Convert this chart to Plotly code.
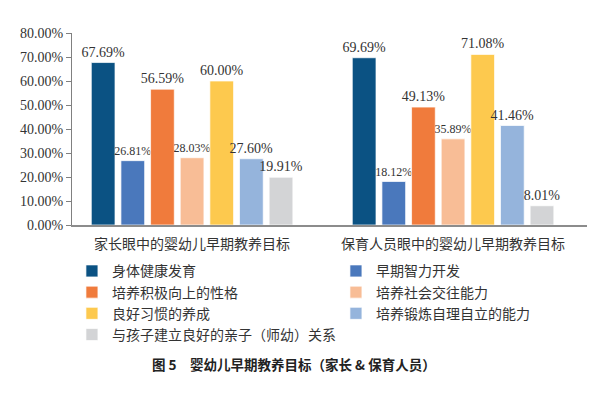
import plotly.graph_objects as go

categories = ["家长眼中的婴幼儿早期教养目标", "保育人员眼中的婴幼儿早期教养目标"]
series_names = ["身体健康发育", "早期智力开发", "培养积极向上的性格", "培养社会交往能力",
                "良好习惯的养成", "培养锻炼自理自立的能力", "与孩子建立良好的亲子（师幼）关系"]
values = [
    [67.69, 69.69],
    [26.81, 18.12],
    [56.59, 49.13],
    [28.03, 35.89],
    [60.00, 71.08],
    [27.60, 41.46],
    [19.91, 8.01],
]
label_sizes = [
    [14, 14],
    [12, 12],
    [14, 14],
    [12, 12],
    [14, 14],
    [14, 14],
    [14, 14],
]
colors = ["#0B5283", "#4A78BC", "#F07B3C", "#F8BD96", "#FDC94E", "#95B4DC", "#D3D4D6"]
tick_vals = [0, 10, 20, 30, 40, 50, 60, 70, 80]
tick_text = ["0.00%", "10.00%", "20.00%", "30.00%", "40.00%", "50.00%", "60.00%", "70.00%", "80.00%"]
title_text = "图 5　婴幼儿早期教养目标（家长 & 保育人员）"

fig = go.Figure()
for name, vals, col, sz in zip(series_names, values, colors, label_sizes):
    fig.add_trace(go.Bar(
        x=categories, y=vals, name=name,
        marker=dict(color=col, line=dict(color="rgba(255,255,255,0.7)", width=1)),
        text=[f"{v:.2f}%" for v in vals], textposition="outside",
        textfont=dict(family="Liberation Serif", size=sz, color="#333333"),
        constraintext="none", cliponaxis=False,
    ))

fig.update_layout(
    width=600, height=394,
    margin=dict(l=60, r=21, t=25, b=177),
    paper_bgcolor="white", plot_bgcolor="white",
    barmode="group", bargap=0.205, bargroupgap=0.2,
    font=dict(family="Noto Sans CJK SC", color="#333333"),
    showlegend=True,
    legend=dict(orientation="h", x=-0.0001, xanchor="left", y=-0.158, yanchor="top",
                entrywidth=219, entrywidthmode="pixels", traceorder="normal",
                font=dict(family="Noto Sans CJK SC", size=14, color="#333333"),
                itemwidth=30, tracegroupgap=0, bgcolor="rgba(0,0,0,0)"),
)
fig.update_yaxes(range=[0, 80], tickvals=tick_vals, ticktext=tick_text,
                 showgrid=False, zeroline=False, showline=True, linecolor="#808080", linewidth=1,
                 ticks="outside", ticklen=5, tickcolor="#808080",
                 tickfont=dict(family="Liberation Serif", size=14, color="#333333"))
fig.update_xaxes(range=[-0.4601, 1.5132], showgrid=False, showline=True, linecolor="#8c8c8c", linewidth=2,
                 ticks="outside", ticklen=5, tickcolor="rgba(0,0,0,0)",
                 tickfont=dict(family="Noto Sans CJK SC", size=14, color="#333333"))
fig.add_annotation(text="<b>" + title_text + "</b>", xref="paper", yref="paper",
                   x=0.432, y=-0.726, xanchor="center", yanchor="middle", showarrow=False,
                   font=dict(family="Noto Sans CJK SC", size=13.5, color="#222222"))
fig.write_html("out.html")
